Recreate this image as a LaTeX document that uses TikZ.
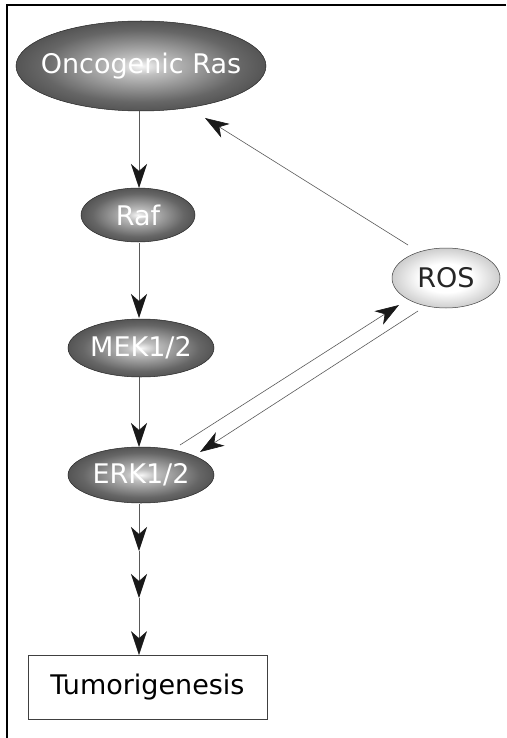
\documentclass[tikz,border=0pt]{standalone}
\usepackage{fontspec}
\setmainfont{DejaVu Sans}
\usetikzlibrary{arrows.meta}
\pgfdeclareradialshading{darkball}{\pgfpoint{0bp}{0bp}}{color(0bp)=(black!3); color(5bp)=(black!25); color(20bp)=(black!60); color(35bp)=(black!80); color(50bp)=(black!92)}
\pgfdeclareradialshading{lightball}{\pgfpoint{0bp}{0bp}}{color(0bp)=(white); color(12bp)=(white); color(32bp)=(black!30); color(50bp)=(black!75)}
\begin{document}
\begin{tikzpicture}[x=1pt,y=-1pt,
  >={Stealth[length=24pt,width=16pt,inset=7pt,color=black!90]},
  darkell/.style={shading=darkball, draw=black!85, line width=0.5pt},
  lightell/.style={shading=lightball, draw=black!75, line width=0.5pt},
  darktxt/.style={text=white, font=\fontsize{27}{30}\selectfont},
  lighttxt/.style={text=black!85, font=\fontsize{27}{30}\selectfont},
  conn/.style={draw=black!65, line width=0.6pt, ->},
  framel/.style={draw=black, line width=1.2pt}]
\useasboundingbox (0,0) rectangle (506,738);
\coordinate (ftl) at (7,5);
\coordinate (ftr) at (506,5);
\coordinate (fbl) at (7,738);
\draw[framel] (ftr) -- (ftl) -- (fbl);
% ellipses
\path[darkell] (141,66) ellipse [x radius=125, y radius=45];
\node[darktxt] (ras) at (141,66) {Oncogenic Ras};
\path[darkell] (138,215) ellipse [x radius=57, y radius=27];
\node[darktxt] (raf) at (138,215) {Raf};
\path[darkell] (141,348) ellipse [x radius=73, y radius=29];
\node[darktxt] (mek) at (141,348) {MEK1/2};
\path[darkell] (141,475) ellipse [x radius=73, y radius=28];
\node[darktxt] (erk) at (141,475) {ERK1/2};
\path[lightell] (446,278) ellipse [x radius=54, y radius=30];
\node[lighttxt] (ros) at (446,278) {ROS};
\node[draw=black!75, line width=0.7pt, minimum width=239pt, minimum height=64pt, font=\fontsize{27}{30}\selectfont] (tum) at (147.5,687.5) {Tumorigenesis};
% connector end points on ellipse borders
\coordinate (rasS) at (139,111);
\coordinate (rafN) at (139,188);
\coordinate (rafS) at (139,243);
\coordinate (mekN) at (139,318);
\coordinate (mekS) at (139,377);
\coordinate (erkN) at (139,447);
\coordinate (erkS) at (139,504);
\coordinate (d1) at (139,551);
\coordinate (d2) at (139,598);
\coordinate (erkNE) at (180,445);
\coordinate (rosSW) at (399,305);
\coordinate (rosS) at (418,311);
\coordinate (erkE) at (200,452);
\coordinate (rosNW) at (408,245);
\coordinate (rasE) at (205,118);
\draw[conn] (rasS) -- (rafN);
\draw[conn] (rafS) -- (mekN);
\draw[conn] (mekS) -- (erkN);
\draw[conn] (erkS) -- (d1);
\draw[conn] (d1) -- (d2);
\draw[conn] (d2) -- (tum.north -| d2);
\draw[conn] (erkNE) -- (rosSW);
\draw[conn] (rosS) -- (erkE);
\draw[conn] (rosNW) -- (rasE);
\end{tikzpicture}
\end{document}
